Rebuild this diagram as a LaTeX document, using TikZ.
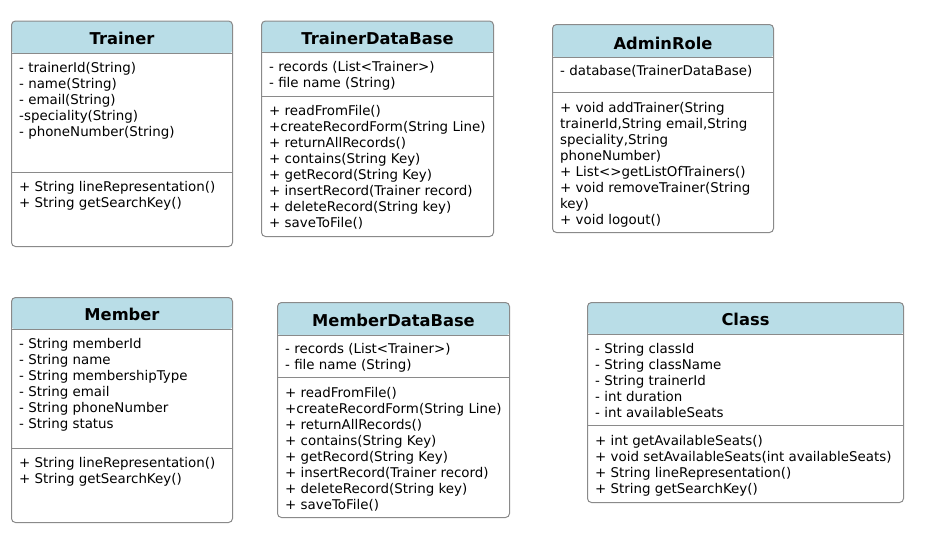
\documentclass[tikz,border=0pt]{standalone}
\usepackage{fontspec}
\setmainfont{DejaVu Sans}
\definecolor{hdrblue}{HTML}{B9DDE7}
\definecolor{bordergray}{HTML}{8A8A8A}
\tikzset{
  umlframe/.style={draw=bordergray, line width=1pt, fill=white, rounded corners=4pt,
    anchor=north west, inner sep=0pt,
    path picture={\fill[hdrblue] (path picture bounding box.north west) rectangle ([yshift=-#1]path picture bounding box.north east);}},
  umltitle/.style={font=\fontsize{16.3}{18}\selectfont\bfseries, anchor=base, inner sep=0pt},
  umltext/.style={font=\fontsize{13.4}{16}\selectfont, align=left, anchor=north west, inner sep=0pt},
  umlsep/.style={draw=bordergray, line width=1pt}
}
\begin{document}
\begin{tikzpicture}[x=1pt,y=-1pt]
\useasboundingbox (0,0) rectangle (931,536);

% Trainer
\node[umlframe=32.5pt, minimum width=221pt, minimum height=225.5pt] (trainer) at (11,20.5) {};
\draw[umlsep] ([yshift=-32.5pt]trainer.north west) -- ([yshift=-32.5pt]trainer.north east);
\draw[umlsep] ([yshift=-151.5pt]trainer.north west) -- ([yshift=-151.5pt]trainer.north east);
\node[umltitle] (trainer-title) at ([yshift=-24pt]trainer.north) {Trainer};
\node[umltext] (trainer-attr) at ([xshift=8pt,yshift=-40.3pt]trainer.north west) {\strut- trainerId(String)\\- name(String)\\- email(String)\\-speciality(String)\\- phoneNumber(String)};
\node[umltext] (trainer-meth) at ([xshift=8pt,yshift=-159.5pt]trainer.north west) {\strut+ String lineRepresentation()\\+ String getSearchKey()};

% TrainerDataBase
\node[umlframe=32pt, minimum width=232pt, minimum height=215.5pt] (tdb) at (261,20.5) {};
\draw[umlsep] ([yshift=-32pt]tdb.north west) -- ([yshift=-32pt]tdb.north east);
\draw[umlsep] ([yshift=-75.5pt]tdb.north west) -- ([yshift=-75.5pt]tdb.north east);
\node[umltitle] (tdb-title) at ([yshift=-24pt]tdb.north) {TrainerDataBase};
\node[umltext] (tdb-attr) at ([xshift=8pt,yshift=-39.8pt]tdb.north west) {\strut- records (List<Trainer>)\\- file name (String)};
\node[umltext] (tdb-meth) at ([xshift=8pt,yshift=-83.3pt]tdb.north west) {\strut+ readFromFile()\\+createRecordForm(String Line)\\+ returnAllRecords()\\+ contains(String Key)\\+ getRecord(String Key)\\+ insertRecord(Trainer record)\\+ deleteRecord(String key)\\+ saveToFile()};

% AdminRole
\node[umlframe=33pt, minimum width=221pt, minimum height=208pt] (admin) at (552,24) {};
\draw[umlsep] ([yshift=-33pt]admin.north west) -- ([yshift=-33pt]admin.north east);
\draw[umlsep] ([yshift=-68pt]admin.north west) -- ([yshift=-68pt]admin.north east);
\node[umltitle] (admin-title) at ([yshift=-25pt]admin.north) {AdminRole};
\node[umltext] (admin-attr) at ([xshift=8pt,yshift=-40.3pt]admin.north west) {\strut- database(TrainerDataBase)};
\node[umltext] (admin-meth) at ([xshift=8pt,yshift=-76.8pt]admin.north west) {\strut+ void addTrainer(String\\trainerId,String email,String\\speciality,String\\phoneNumber)\\+ List<>getListOfTrainers()\\+ void removeTrainer(String\\key)\\+ void logout()};

% Member
\node[umlframe=32pt, minimum width=221pt, minimum height=225pt] (member) at (11,297) {};
\draw[umlsep] ([yshift=-32pt]member.north west) -- ([yshift=-32pt]member.north east);
\draw[umlsep] ([yshift=-151pt]member.north west) -- ([yshift=-151pt]member.north east);
\node[umltitle] (member-title) at ([yshift=-23.5pt]member.north) {Member};
\node[umltext] (member-attr) at ([xshift=8pt,yshift=-40pt]member.north west) {\strut- String memberId\\- String name\\- String membershipType\\- String email\\- String phoneNumber\\- String status};
\node[umltext] (member-meth) at ([xshift=8pt,yshift=-159.5pt]member.north west) {\strut+ String lineRepresentation()\\+ String getSearchKey()};

% MemberDataBase
\node[umlframe=33pt, minimum width=232pt, minimum height=215pt] (mdb) at (277,302) {};
\draw[umlsep] ([yshift=-33pt]mdb.north west) -- ([yshift=-33pt]mdb.north east);
\draw[umlsep] ([yshift=-75pt]mdb.north west) -- ([yshift=-75pt]mdb.north east);
\node[umltitle] (mdb-title) at ([yshift=-24.5pt]mdb.north) {MemberDataBase};
\node[umltext] (mdb-attr) at ([xshift=8pt,yshift=-40.5pt]mdb.north west) {\strut- records (List<Trainer>)\\- file name (String)};
\node[umltext] (mdb-meth) at ([xshift=8pt,yshift=-84pt]mdb.north west) {\strut+ readFromFile()\\+createRecordForm(String Line)\\+ returnAllRecords()\\+ contains(String Key)\\+ getRecord(String Key)\\+ insertRecord(Trainer record)\\+ deleteRecord(String key)\\+ saveToFile()};

% Class
\node[umlframe=32pt, minimum width=316pt, minimum height=200pt] (class) at (587,302) {};
\draw[umlsep] ([yshift=-32pt]class.north west) -- ([yshift=-32pt]class.north east);
\draw[umlsep] ([yshift=-123pt]class.north west) -- ([yshift=-123pt]class.north east);
\node[umltitle] (class-title) at ([yshift=-23.5pt]class.north) {Class};
\node[umltext] (class-attr) at ([xshift=8pt,yshift=-40pt]class.north west) {\strut- String classId\\- String className\\- String trainerId\\- int duration\\- int availableSeats};
\node[umltext] (class-meth) at ([xshift=8pt,yshift=-132pt]class.north west) {\strut+ int getAvailableSeats()\\+ void setAvailableSeats(int availableSeats)\\+ String lineRepresentation()\\+ String getSearchKey()};
\end{tikzpicture}
\end{document}
